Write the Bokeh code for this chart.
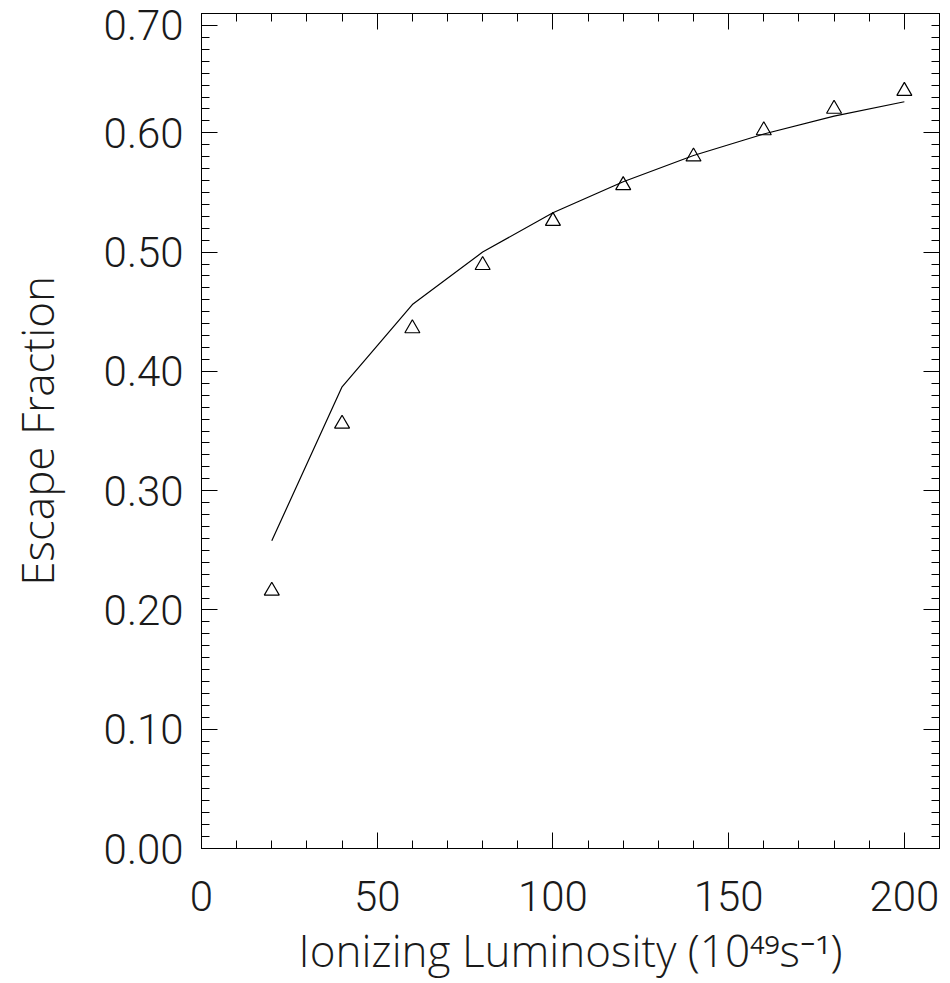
from bokeh.plotting import figure
from bokeh.models import FixedTicker, LinearAxis, Range1d
from bokeh.embed import file_html
from bokeh.resources import INLINE

# ---- data ----
luminosity = [20, 40, 60, 80, 100, 120, 140, 160, 180, 200]
escape_sim = [0.216, 0.356, 0.436, 0.489, 0.526, 0.556, 0.580, 0.602, 0.620, 0.635]
escape_model = [0.258, 0.387, 0.456, 0.500, 0.533, 0.559, 0.581, 0.599, 0.614, 0.626]

x_ticks = [0, 50, 100, 150, 200]
x_tick_labels = ["0", "50", "100", "150", "200"]
y_ticks = [0.0, 0.1, 0.2, 0.3, 0.4, 0.5, 0.6, 0.7]
y_tick_labels = ["0.00", "0.10", "0.20", "0.30", "0.40", "0.50", "0.60", "0.70"]
x_minor = [i * 10 for i in range(22)]
y_minor = [i / 100 for i in range(71)]

FONT_TICK = "'Roboto Light', 'Open Sans Light', Lato"
FONT_TITLE = "'Open Sans Light', 'Roboto Light', Lato"
FS = "42px"
FS_TITLE = "44px"
TXT = "#1a1a1a"

p = figure(width=948, height=983, x_range=Range1d(0, 210), y_range=Range1d(0, 0.70),
           output_backend="svg", toolbar_location=None,
           min_border_left=201, min_border_right=9, min_border_top=13, min_border_bottom=135)
p.xgrid.visible = False
p.ygrid.visible = False
p.outline_line_color = "black"
p.outline_line_width = 1

p.line(luminosity, escape_model, line_color="black", line_width=1.2)
p.scatter(luminosity, escape_sim, marker="triangle", size=15, fill_color=None,
          line_color="black", line_width=1.2)

def style(ax, ticks, minor, labels):
    ax.ticker = FixedTicker(ticks=ticks, minor_ticks=minor)
    ax.major_tick_in = 16
    ax.major_tick_out = 0
    ax.minor_tick_in = 8
    ax.minor_tick_out = 0
    ax.axis_line_color = "black"
    ax.major_tick_line_color = "black"
    ax.minor_tick_line_color = "black"
    ax.major_label_overrides = {t: l for t, l in zip(ticks, labels)}
    ax.major_label_text_font = FONT_TICK
    ax.major_label_text_font_size = FS
    ax.major_label_text_color = TXT
    ax.axis_label_text_font = FONT_TITLE
    ax.axis_label_text_font_size = FS_TITLE
    ax.axis_label_text_font_style = "normal"
    ax.axis_label_text_color = TXT

xa = p.xaxis[0]
ya = p.yaxis[0]
style(xa, x_ticks, x_minor, x_tick_labels)
# the top label "0.70" sits just under the top edge (as in the original),
# so it is anchored at the last minor-tick position below the top.
left_ticks = y_ticks[:-1] + [y_minor[-2]]
style(ya, left_ticks, y_minor, y_tick_labels)
xa.axis_label = "Ionizing Luminosity (10\u2074\u2079s\u207b\u00b9)"
ya.axis_label = "Escape Fraction"
xa.major_label_standoff = 32
xa.axis_label_standoff = 6
ya.major_label_standoff = 18
ya.axis_label_standoff = 34

top = LinearAxis()
style(top, x_ticks, x_minor, [""] * len(x_ticks))
top.major_label_text_font_size = "10px"
top.major_label_standoff = 0
right = LinearAxis()
style(right, y_ticks, y_minor, [""] * len(y_ticks))
right.major_label_text_font_size = "10px"
right.major_label_standoff = 0
p.add_layout(top, "above")
p.add_layout(right, "right")

open("out.html", "w").write(file_html(p, INLINE))
